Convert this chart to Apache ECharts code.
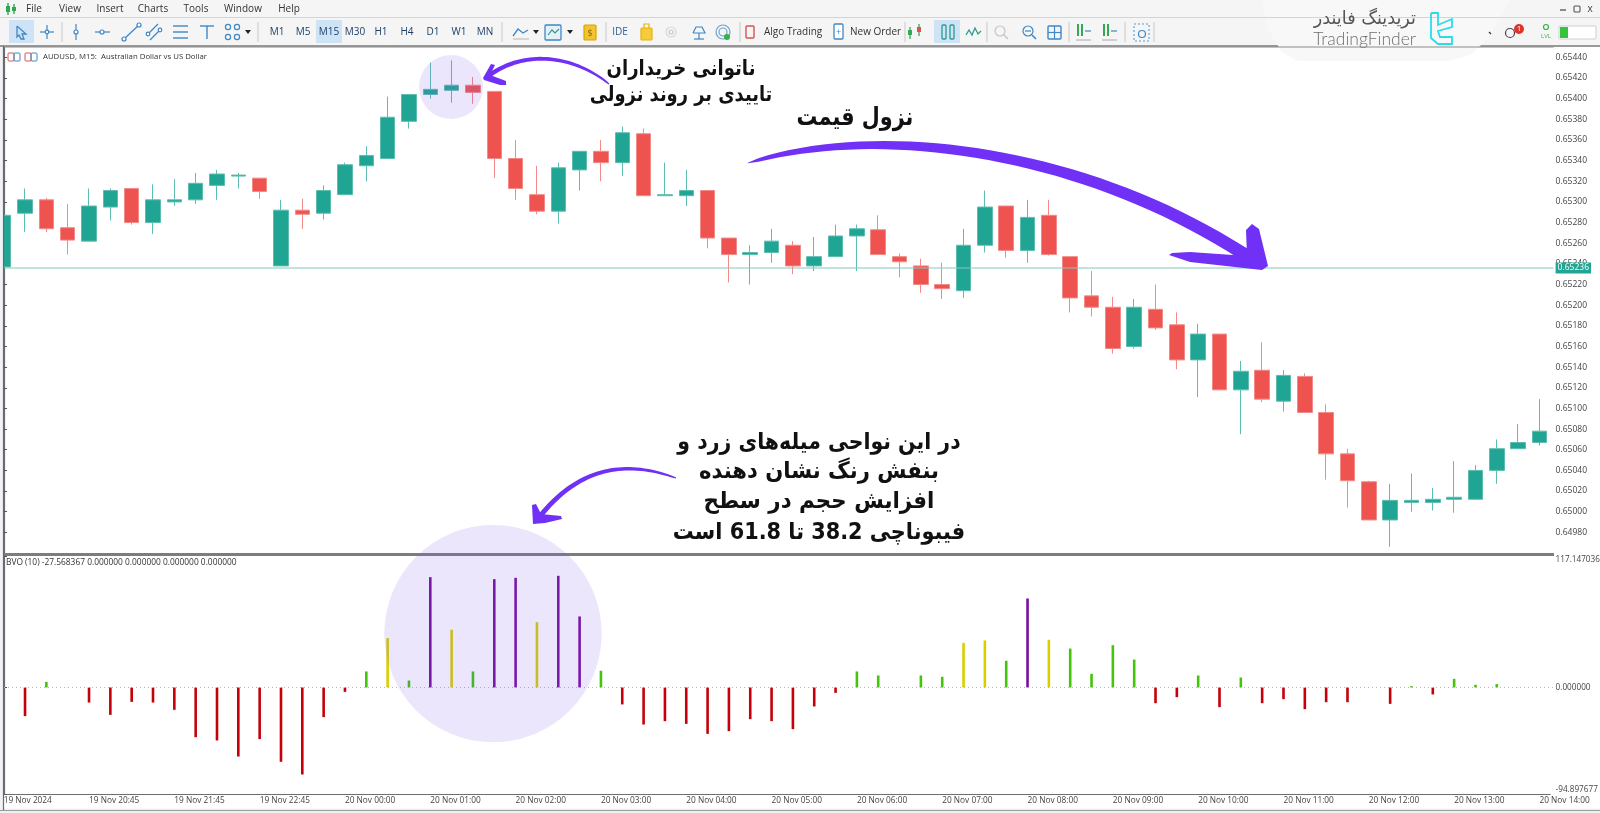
<!DOCTYPE html>
<html>
<head>
<meta charset="utf-8">
<title>AUDUSD M15 BVO</title>
<script src="https://cdn.jsdelivr.net/npm/echarts@6/dist/echarts.min.js"></script>
<style>
	html,body{margin:0;padding:0;background:#fff;}
	#chart{width:1600px;height:813px;}
</style>
</head>
<body>
<div id="chart"></div>
<script type="text/javascript">
	var tickLabels = ["19 Nov 2024","19 Nov 20:45","19 Nov 21:45","19 Nov 22:45","20 Nov 00:00","20 Nov 01:00","20 Nov 02:00","20 Nov 03:00","20 Nov 04:00","20 Nov 05:00","20 Nov 06:00","20 Nov 07:00","20 Nov 08:00","20 Nov 09:00","20 Nov 10:00","20 Nov 11:00","20 Nov 12:00","20 Nov 13:00","20 Nov 14:00"];

	var candleOpen = [0.65237,0.65289,0.65302,0.65275,0.65262,0.65295,0.65313,0.65280,0.65300,0.65302,
		0.65316,0.65325,0.65323,0.65238,0.65292,0.65289,0.65307,0.65335,0.65342,0.65378,
		0.65404,0.65408,0.65413,0.65407,0.65342,0.65307,0.65291,0.65331,0.65349,0.65338,
		0.65366,0.65306,0.65306,0.65311,0.65265,0.65249,0.65251,0.65258,0.65238,0.65247,
		0.65267,0.65273,0.65247,0.65238,0.65220,0.65214,0.65258,0.65296,0.65253,0.65287,
		0.65247,0.65209,0.65198,0.65160,0.65196,0.65181,0.65147,0.65172,0.65118,0.65137,
		0.65107,0.65131,0.65096,0.65056,0.65029,0.64992,0.65009,0.65009,0.65012,0.65012,
		0.65040,0.65061,0.65067];
	var candleClose = [0.65287,0.65302,0.65274,0.65263,0.65296,0.65311,0.65280,0.65302,0.65302,0.65318,
		0.65327,0.65326,0.65310,0.65292,0.65288,0.65311,0.65336,0.65345,0.65382,0.65404,
		0.65409,0.65413,0.65406,0.65342,0.65313,0.65291,0.65333,0.65349,0.65338,0.65367,
		0.65306,0.65307,0.65311,0.65265,0.65249,0.65251,0.65262,0.65238,0.65247,0.65267,
		0.65274,0.65249,0.65242,0.65220,0.65216,0.65258,0.65295,0.65253,0.65285,0.65249,
		0.65207,0.65198,0.65158,0.65198,0.65178,0.65147,0.65172,0.65118,0.65136,0.65109,
		0.65132,0.65096,0.65056,0.65030,0.64992,0.65011,0.65011,0.65012,0.65014,0.65040,
		0.65061,0.65067,0.65078];
	var candleLow = [0.65237,0.65271,0.65271,0.65249,0.65262,0.65282,0.65278,0.65269,0.65296,0.65298,
		0.65302,0.65313,0.65303,0.65238,0.65274,0.65283,0.65307,0.65320,0.65342,0.65371,
		0.65400,0.65396,0.65395,0.65323,0.65302,0.65288,0.65279,0.65311,0.65320,0.65325,
		0.65306,0.65306,0.65296,0.65255,0.65222,0.65220,0.65241,0.65230,0.65233,0.65247,
		0.65233,0.65249,0.65227,0.65212,0.65206,0.65207,0.65251,0.65246,0.65241,0.65248,
		0.65193,0.65189,0.65153,0.65158,0.65176,0.65138,0.65111,0.65118,0.65075,0.65106,
		0.65097,0.65096,0.65031,0.65004,0.64992,0.64966,0.65000,0.65001,0.64999,0.65012,
		0.65027,0.65061,0.65064];
	var candleHigh = [0.65287,0.65313,0.65304,0.65298,0.65313,0.65313,0.65313,0.65317,0.65322,0.65328,
		0.65331,0.65328,0.65323,0.65302,0.65303,0.65316,0.65338,0.65354,0.65402,0.65404,
		0.65435,0.65437,0.65421,0.65407,0.65360,0.65335,0.65338,0.65349,0.65360,0.65373,
		0.65371,0.65338,0.65331,0.65311,0.65265,0.65258,0.65274,0.65262,0.65266,0.65278,
		0.65278,0.65287,0.65250,0.65245,0.65241,0.65274,0.65311,0.65296,0.65302,0.65302,
		0.65247,0.65233,0.65208,0.65206,0.65220,0.65193,0.65182,0.65172,0.65146,0.65164,
		0.65137,0.65134,0.65104,0.65061,0.65030,0.65027,0.65037,0.65023,0.65049,0.65045,
		0.65070,0.65085,0.65109];
	var currentPrice = 0.65236;

	var bvoValues = [0,-25.5,5,0.3,-13.4,-24.4,-12.8,-13.4,-19.9,-44.3,
		-47.2,-61.5,-46,-66.2,-77.5,-26.4,-3.9,14.3,44,6.2,
		98.3,51.4,14.3,96.5,97.7,58.2,99.5,63.3,14.9,-15.1,
		-33,-30,-32.4,-41.3,-38.9,-28.2,-30,-37.1,-16.9,-4.8,
		14.3,10.7,0.3,10.7,9.5,39.8,41.9,23.8,79.3,42.5,
		34.7,12.2,37.7,24.9,-14,-8.6,10.7,-17.5,8.9,-14,
		-10.4,-19.3,-13.1,-13.1,0.2,-14.6,1.2,-6.2,7.7,2.4,
		3,0.3,0];
	var bvoKinds = ["n","r","g","n","r","r","r","r","r","r",
		"r","r","r","r","r","r","r","g","y","g",
		"p","y","g","p","p","y","p","p","g","r",
		"r","r","r","r","r","r","r","r","r","r",
		"g","g","n","g","g","y","y","g","p","y",
		"g","g","g","g","r","r","g","r","g","r",
		"r","r","r","r","n","r","g","r","g","g",
		"g","n","n"];
	var bvoMax = 117.147036, bvoMin = -94.897677;
	var bvoTitle = "BVO (10) -27.568367 0.000000 0.000000 0.000000 0.000000";

	var kindColors = {r:"#c4000b",g:"#44c40a",y:"#d9cf00",p:"#7a0f9e",n:"#cfd8cf"};
	var uiFont = "'Open Sans',sans-serif";
	var faFont = "'DejaVu Sans',sans-serif";
	var purple = "#7130f5";

	var categories = [];
	for (var i=0;i<candleOpen.length;i++){
		categories.push(i%4==0 ? tickLabels[i/4] : "");
	}
	var candleData = [];
	for (var i=0;i<candleOpen.length;i++){
		candleData.push([candleOpen[i],candleClose[i],candleLow[i],candleHigh[i]]);
	}
	var barData = [];
	for (var i=0;i<bvoValues.length;i++){
		barData.push({value:bvoValues[i],itemStyle:{color:kindColors[bvoKinds[i]]}});
	}

	// window chrome and annotations, all on top of the series
	var el = [];
	function rect(x,y,w,h,fill,z){
		el.push({type:"rect",z:z||100,silent:true,shape:{x:x,y:y,width:w,height:h},style:{fill:fill}});
	}
	function box(x,y,w,h,stroke,lw,fill){
		el.push({type:"rect",z:102,silent:true,shape:{x:x,y:y,width:w,height:h,r:1},style:{fill:fill||"none",stroke:stroke,lineWidth:lw||1.2}});
	}
	function line(x1,y1,x2,y2,color,w){
		el.push({type:"line",z:102,silent:true,shape:{x1:x1,y1:y1,x2:x2,y2:y2},style:{stroke:color,lineWidth:w||1}});
	}
	function dot(x,y,r,fill,stroke){
		el.push({type:"circle",z:102,silent:true,shape:{cx:x,cy:y,r:r},style:{fill:fill||"none",stroke:stroke||null,lineWidth:1.2}});
	}
	function poly(points,fill,z){
		el.push({type:"polygon",z:z||105,silent:true,shape:{points:points},style:{fill:fill}});
	}
	function pline(points,color,w,z){
		el.push({type:"polyline",z:z||102,silent:true,shape:{points:points},style:{stroke:color,lineWidth:w||1.3,fill:"none"}});
	}
	function txt(x,y,s,size,color,align,font,weight,sx){
		el.push({type:"text",z:110,silent:true,x:x,y:y,scaleX:sx||1,style:{text:s,fontSize:size,fill:color||"#333",align:align||"left",verticalAlign:"middle",fontFamily:font||uiFont,fontWeight:weight||"normal"}});
	}
	function curve(p0,p1,p2,p3,w0,w1){
		var up=[],down=[];
		for (var k=0;k<=40;k++){
			var t=k/40,m=1-t;
			var x=m*m*m*p0[0]+3*m*m*t*p1[0]+3*m*t*t*p2[0]+t*t*t*p3[0];
			var y=m*m*m*p0[1]+3*m*m*t*p1[1]+3*m*t*t*p2[1]+t*t*t*p3[1];
			var dx=3*m*m*(p1[0]-p0[0])+6*m*t*(p2[0]-p1[0])+3*t*t*(p3[0]-p2[0]);
			var dy=3*m*m*(p1[1]-p0[1])+6*m*t*(p2[1]-p1[1])+3*t*t*(p3[1]-p2[1]);
			var len=Math.sqrt(dx*dx+dy*dy),w=(w0+(w1-w0)*Math.pow(t,0.4))/2;
			up.push([x-dy/len*w,y+dx/len*w]);
			down.unshift([x+dy/len*w,y-dx/len*w]);
		}
		return up.concat(down);
	}

	// frame
	rect(0,0,4,813,"#f2f3f5",60);
	line(3.5,46,3.5,811,"#5f6b78",1.2);
	line(4,47,1553.6,47,"#8a8a8a",1);
	rect(4,553,1550,3,"#7d7d7d",60);
	rect(0,808.5,1600,4.5,"#f0f0f0",60);
	line(0,810.5,1600,810.5,"#9a9a9a",1.2);

	// toolbar
	rect(0,0,1600,46,"#f5f5f5",90);
	line(0,17.5,1600,17.5,"#d4d4d4",1);
	rect(0,45,1600,2,"#999999",91);
	rect(9,20,25,23,"#cfe3f6",95);
	rect(316,20,26,23,"#cfe3f6",95);
	rect(934,20,26,23,"#cfe3f6",95);
	var menuNames = ["File","View","Insert","Charts","Tools","Window","Help"];
	var menuX = [34,70,110,153,196,243,289];
	for (var i=0;i<menuNames.length;i++){ txt(menuX[i],9.5,menuNames[i],10,"#333","center"); }
	var periodNames = ["M1","M5","M15","M30","H1","H4","D1","W1","MN"];
	var periodX = [277,303,329,355,381,407,433,459,485];
	for (var i=0;i<periodNames.length;i++){ txt(periodX[i],32.5,periodNames[i],10,"#1d3f66","center"); }
	var seps = [62,258,502,606,740,905,987,1069,1125,1154];
	for (var i=0;i<seps.length;i++){ line(seps[i],22,seps[i],42,"#c9c9c9",1); }
	txt(620,32.5,"IDE",10,"#2f5f93","center");
	txt(764,32,"Algo Trading",10,"#333");
	txt(850,32,"New Order",10,"#333");

	// toolbar icons
	var blue = "#3f87c6", teal = "#2a9d8f";
	line(8,3,8,15,"#2fa84f",1.4); rect(6,6,4,6,"#2fa84f",103); line(14,4,14,14,"#2fa84f",1.4); rect(12,7,4,4,"#2fa84f",103);
	pline([[17,26],[26,34],[22,34],[24,39],[21,39],[19,35],[17,37],[17,26]],blue,1.3);
	line(47,25,47,39,blue,1.2); line(40,32,54,32,blue,1.2); dot(47,32,1.8,"#fff",blue);
	line(76,24,76,40,blue,1.2); dot(76,32,2,"#fff",blue);
	line(95,32,110,32,blue,1.2); dot(102,32,2,"#fff",blue);
	line(124,39,139,25,blue,1.3); dot(124,39,2,"#fff",blue); dot(139,25,2,"#fff",blue);
	line(148,34,158,24,blue,1.3); line(150,40,160,30,blue,1.3); dot(148,34,1.8,"#fff",blue); dot(160,30,1.8,"#fff",blue);
	line(173,26,188,26,blue,1.4); line(173,32,188,32,blue,1.4); line(173,38,188,38,blue,1.4);
	line(200,26,214,26,blue,1.4); line(207,26,207,39,blue,1.4);
	dot(228,27,2.6,null,blue); dot(237,27,2.6,null,blue); dot(228,37,2.6,null,blue); dot(237,37,2.6,null,blue);
	poly([[245,30],[251,30],[248,34]],"#222",103);
	pline([[513,36],[518,29],[523,33],[528,30]],blue,1.3); line(513,39,529,39,"#b5b5b5",1);
	poly([[533,30],[539,30],[536,34]],"#222",103);
	box(545,25,16,15,blue,1.3,"#e6f0f8"); pline([[548,35],[552,30],[555,33],[559,29]],teal,1.2);
	poly([[567,30],[573,30],[570,34]],"#222",103);
	box(584,25,12,15,"#d9a400",1.2,"#f3c431"); txt(590,33,"$",9,"#8a6b00","center");
	box(641,28,11,12,"#e7b400",1.2,"#f6cc3d"); pline([[644,28],[644,24],[649,24],[649,28]],"#e7b400",1.2);
	dot(671,32,2,null,"#c8c8c8"); dot(671,32,5,null,"#d8d8d8");
	pline([[693,33],[696,27],[702,27],[705,33],[693,33]],blue,1.2); line(699,33,699,39,blue,1.2); line(694,39,704,39,blue,1.2);
	dot(723,32,7,null,"#6aa2cf"); dot(723,32,4,null,"#6aa2cf"); dot(727,37,3,"#35b24a");
	box(746,26,8,12,"#d9534f",1.4);
	box(834,24,9,15,blue,1.3,"#fff"); txt(838.5,32,"+",9,blue,"center");
	line(910,27,910,39,"#35a853",1.3); line(919,24,919,36,"#35a853",1.3); rect(908,30,4,5,"#35a853",103); rect(917,27,4,5,"#d9534f",103);
	box(942,25,4,14,teal,1.3); box(950,25,4,14,teal,1.3);
	pline([[966,35],[969,30],[972,35],[975,28],[978,34],[981,31]],teal,1.3);
	dot(1000,31,5,null,"#c4c4c4"); line(1004,35,1008,39,"#c4c4c4",1.4);
	dot(1028,31,5,null,blue); line(1032,35,1036,39,blue,1.6); line(1025,31,1031,31,blue,1.2);
	box(1048,26,13,13,blue,1.4); line(1054.5,26,1054.5,39,blue,1.2); line(1048,32.5,1061,32.5,blue,1.2);
	line(1078,24,1078,36,"#35a853",2); line(1082,24,1082,36,"#35a853",2); line(1085,31,1091,31,blue,1.2); line(1076,40,1091,40,"#aaa",1);
	line(1104,24,1104,36,"#35a853",2); line(1108,24,1108,36,"#35a853",2); line(1111,31,1117,31,blue,1.2); line(1102,40,1117,40,"#aaa",1);
	el.push({type:"rect",z:102,silent:true,shape:{x:1134,y:24,width:15,height:17},style:{fill:"none",stroke:"#5b9bd0",lineWidth:1.1,lineDash:[2,2]}});
	dot(1142,34,3.5,null,blue);

	// right part of the toolbar
	line(1560,10,1566,10,"#444",1.2); box(1574,6,6,6,"#555",1.1); txt(1590,9,"x",10,"#444","center");
	dot(1510,33,4.5,null,"#444"); dot(1519,29,5,"#e0342b"); txt(1519,29,"1",8,"#fff","center");
	dot(1546,27,2.5,null,"#35b24a"); txt(1546,36,"LVL",6,"#35b24a","center");
	box(1559,26,37,13,"#cfcfcf",1,"#fff"); rect(1560,27,8,11,"#35c23c",103);
	line(1489,32,1491,34,"#333",1.2);

	// logo plate
	poly([[1262,0],[1268,30],[1282,52],[1298,61],[1450,61],[1472,54],[1490,36],[1506,8],[1510,0]],"#f8f8f8",98);
	txt(1416,19,"تریدینگ فایندر",18,"#555555","right",faFont,"normal",0.98);
	el.push({type:"text",z:110,silent:true,x:1416,y:39,style:{text:"TradingFinder",fontSize:17.5,fill:"#6e6e6e",align:"right",verticalAlign:"middle",fontFamily:"Lato,sans-serif",fontWeight:300}});
	pline([[1431,13],[1438,13],[1438,25],[1452,19],[1452,27],[1438,31],[1440,37],[1452,37],[1452,44],[1438,44],[1431,38],[1431,13]],"#29dcec",1.8,104);

	// panel captions
	box(8,53,6,8,"#d9534f",1); box(14,53,6,8,"#3f87c6",1);
	box(25,53,6,8,"#d9534f",1); box(31,53,6,8,"#3f87c6",1);
	txt(43,57,"AUDUSD, M15:  Australian Dollar vs US Dollar",7.8,"#333");
	txt(6,562.5,bvoTitle,8.4,"#333");

	// highlight circles
	el.push({type:"circle",z:104,silent:true,shape:{cx:451,cy:87,r:32},style:{fill:"rgba(124,84,232,0.15)"}});
	el.push({type:"circle",z:104,silent:true,shape:{cx:493,cy:633.6,r:108.7},style:{fill:"rgba(124,84,232,0.15)"}});

	// arrows
	poly(curve([609,84],[575,56],[525,48],[487,77],1,4.5),purple);
	poly([[483,78],[491,64],[495,65],[490,75],[506,81],[506,85],[500,85],[484,80]],purple);
	poly(curve([748,163],[880,122],[1090,150],[1256,262],0.5,13),purple);
	poly([[1268,266],[1259,229],[1252,224],[1246,230],[1247,256],[1190,252],[1172,253],[1169,255],[1190,262],[1262,270]],purple);
	poly(curve([676,478],[622,458],[575,470],[538,519],0.8,5),purple);
	poly([[533,524],[532,505],[536,504],[541,514],[561,516],[562,519],[545,523]],purple);

	// persian notes
	var note = ["در این نواحی میله‌های زرد و","بنفش رنگ نشان دهنده","افزایش حجم در سطح","فیبوناچی 38.2 تا 61.8 است"];
	var noteY = [443,472,502,533];
	var noteFit = [0.89,0.92,0.93,0.905];
	for (var i=0;i<note.length;i++){ txt(819,noteY[i],note[i],23,"#111","center",faFont,"bold",noteFit[i]); }
	txt(681,70,"ناتوانی خریداران",21,"#111","center",faFont,"bold",0.86);
	txt(681,96,"تاییدی بر روند نزولی",21,"#111","center",faFont,"bold",0.85);
	txt(855,118,"نزول قیمت",25,"#111","center",faFont,"bold",0.83);

	var thechart = echarts.init(document.getElementById("chart"));
	var theoption = {
		animation:false,
		backgroundColor:"#ffffff",
		textStyle:{fontFamily:uiFont},
		graphic:{elements:el},
		grid:[
			{left:-6.97,width:1557.09,top:47,height:506,outerBoundsMode:"none"},
			{left:-6.97,width:1557.09,top:556,height:238,outerBoundsMode:"none"},
			{left:4,width:1549.6,top:47,height:506,outerBoundsMode:"none"},
			{left:4,width:1549.6,top:556,height:238,outerBoundsMode:"none"}
		],
		xAxis:[
			{type:"category",gridIndex:0,data:categories,show:false},
			{type:"category",gridIndex:1,data:categories,
				axisLine:{onZero:false,lineStyle:{color:"#6e6e6e",width:1.2}},
				axisTick:{alignWithLabel:true,interval:3,length:3,lineStyle:{color:"#555"}},
				axisLabel:{interval:3,align:"left",margin:3,fontSize:8.3,color:"#444",fontFamily:uiFont,hideOverlap:false}
			},
			{type:"value",gridIndex:2,min:0,max:1,show:false},
			{type:"value",gridIndex:3,min:0,max:1,show:false}
		],
		yAxis:[
			{type:"value",gridIndex:0,min:0.6496,max:0.6545,show:false},
			{type:"value",gridIndex:1,min:bvoMin,max:bvoMax,show:false},
			{type:"value",gridIndex:2,position:"right",min:0.6496,max:0.6545,interval:0.0002,
				splitLine:{show:false},
				axisLine:{show:true,lineStyle:{color:"#6e6e6e",width:1.2}},
				axisTick:{show:true,length:3,lineStyle:{color:"#555"}},
				axisLabel:{margin:2,fontSize:8.5,color:"#444",fontFamily:uiFont,showMinLabel:false,showMaxLabel:false,
					formatter:function(v){return v.toFixed(5);}}
			},
			{type:"value",gridIndex:3,position:"right",min:bvoMin,max:bvoMax,
				splitLine:{show:false},
				axisLine:{show:true,lineStyle:{color:"#6e6e6e",width:1.2}},
				axisTick:{show:true,length:3,customValues:[bvoMin,0,bvoMax],lineStyle:{color:"#555"}},
				axisLabel:{margin:2,fontSize:8.2,color:"#444",fontFamily:uiFont,customValues:[bvoMin,0,bvoMax],
					verticalAlignMinLabel:"bottom",verticalAlignMaxLabel:"top",
					formatter:function(v){return v.toFixed(6);}}
			}
		],
		series:[
			{
				type:"candlestick",xAxisIndex:0,yAxisIndex:0,barWidth:15,data:candleData,
				itemStyle:{color:"#20a594",color0:"#ef5350",borderColor:"#5dbdb0",borderColor0:"#f28a88",borderWidth:1}
			},
			{type:"bar",xAxisIndex:1,yAxisIndex:1,barWidth:2.6,data:barData},
			{
				type:"line",xAxisIndex:2,yAxisIndex:2,symbol:"none",silent:true,
				data:[[0,currentPrice],[1,currentPrice]],
				lineStyle:{color:"#84cabf",width:1.2},
				endLabel:{show:true,distance:2,fontSize:8.5,color:"#fff",backgroundColor:"#20a594",padding:[1,2],fontFamily:uiFont,
					formatter:function(){return currentPrice.toFixed(5);}}
			},
			{
				type:"line",xAxisIndex:3,yAxisIndex:3,symbol:"none",silent:true,
				data:[[0,0],[1,0]],
				lineStyle:{color:"#b4bab4",width:1,type:[1,3]}
			}
		]
	};
	thechart.setOption(theoption);
</script>
</body>
</html>
